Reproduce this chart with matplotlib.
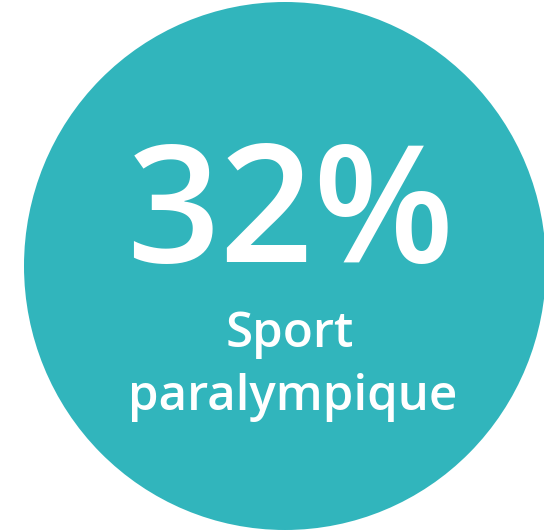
import matplotlib
matplotlib.use("Agg")
import matplotlib.pyplot as plt
from matplotlib.patches import Ellipse

# value shown in the bubble
pct_value = 32
label_lines = ["Sport", "paralympique"]

teal = "#31b5bc"


def main():
    fig = plt.figure(figsize=(5.44, 5.32), dpi=100)
    ax = fig.add_axes([0, 0, 1, 1])
    ax.set_xlim(0, 544)
    ax.set_ylim(532, 0)
    ax.axis("off")

    # the big disc, runs off the right and bottom edge
    disc = Ellipse((285, 266), 522, 528, color=teal, lw=0)
    ax.add_patch(disc)

    ax.text(290, 262, f"{pct_value}%", color="white", fontsize=118,
            fontweight="semibold", family=["Open Sans", "DejaVu Sans"],
            ha="center", va="baseline")

    ax.text(290, 347, label_lines[0], color="white", fontsize=35.5,
            fontweight="semibold", family=["Open Sans", "DejaVu Sans"],
            ha="center", va="baseline")
    ax.text(293, 410, label_lines[1], color="white", fontsize=35.5,
            fontweight="semibold", family=["Open Sans", "DejaVu Sans"],
            ha="center", va="baseline")

    fig.savefig("out.png", dpi=100)


if __name__ == "__main__":
    main()
